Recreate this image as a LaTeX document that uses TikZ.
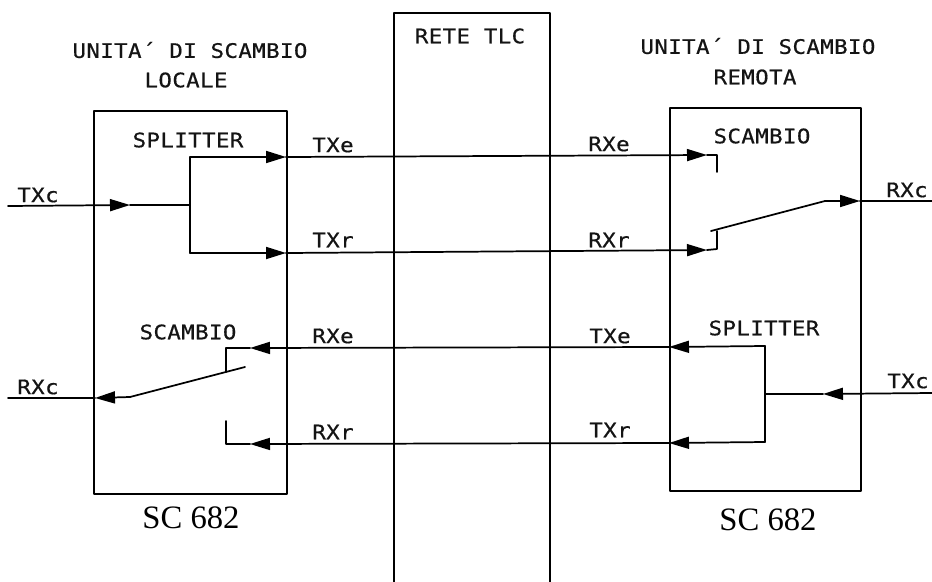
\documentclass[tikz,border=0pt]{standalone}
\usepackage{fontspec}
\usetikzlibrary{arrows.meta}
\setmainfont{Liberation Serif}
\newfontfamily\plotfont[FakeStretch=1.12,FakeBold=0.6,LetterSpace=2]{DejaVu Sans Mono}
\tikzset{
  x=0.75pt,y=-0.75pt,
  plottext/.style={inner sep=0pt,font=\plotfont\fontsize{15}{17}\selectfont,text=black!92},
  modeltext/.style={inner sep=0pt,font=\fontsize{24.5}{28}\selectfont},
  unitline/.style={draw,line width=1.15pt,line join=round},
  wire/.style={line width=1.3pt,line join=round,line cap=round},
  tipwire/.style={wire,-{Triangle[length=15pt,width=9pt]}}
}
\begin{document}
\begin{tikzpicture}
\useasboundingbox (0,0) rectangle (932,582);
% boxes
\node[unitline,inner sep=0pt,minimum width=144.75pt,minimum height=287.25pt,anchor=north west] (loc) at (93,110) {};
\node[unitline,inner sep=0pt,minimum width=143.25pt,minimum height=287.25pt,anchor=north west] (rem) at (669,107) {};
\draw[unitline] (394,582) coordinate (reteA) -- (394,13) coordinate (reteB) -- (550,13) coordinate (reteC) -- (550,582) coordinate (reteD);
% titles
\node[plottext] (t1) at (190,50) {UNITA´ DI SCAMBIO};
\node[plottext] (t2) at (186,80) {LOCALE};
\node[plottext] (t3) at (470,36) {RETE TLC};
\node[plottext] (t4) at (758,46) {UNITA´ DI SCAMBIO};
\node[plottext] (t5) at (755,77) {REMOTA};
\node[plottext] (s1) at (188,140) {SPLITTER};
\node[plottext] (s2) at (188,332) {SCAMBIO};
\node[plottext] (s3) at (762,136) {SCAMBIO};
\node[plottext] (s4) at (764,328) {SPLITTER};
\node[plottext] (l1) at (38,195) {TXc};
\node[plottext] (l2) at (333,145) {TXe};
\node[plottext] (l3) at (333,240) {TXr};
\node[plottext] (l4) at (609,144) {RXe};
\node[plottext] (l5) at (609,240) {RXr};
\node[plottext] (l6) at (907,190) {RXc};
\node[plottext] (l7) at (38,387) {RXc};
\node[plottext] (l8) at (333,336) {RXe};
\node[plottext] (l9) at (333,432) {RXr};
\node[plottext] (l10) at (610,336) {TXe};
\node[plottext] (l11) at (610,430) {TXr};
\node[plottext] (l12) at (908,381) {TXc};
\node[modeltext] (m1) at (191,518) {SC 682};
\node[modeltext] (m2) at (768,520) {SC 682};
% points
\coordinate (a0) at (8,206); \coordinate (a1) at (130,205); \coordinate (a2) at (190,205);
\coordinate (b1) at (190,157); \coordinate (b2) at (286,157); \coordinate (b3) at (707,155); \coordinate (b4) at (717,155); \coordinate (b5) at (717,172);
\coordinate (c1) at (190,253); \coordinate (c2) at (286,253); \coordinate (c3) at (707,250); \coordinate (c4) at (717,249); \coordinate (c5) at (717,231);
\coordinate (d1) at (711,231); \coordinate (d2) at (825,201); \coordinate (d3) at (860,201); \coordinate (d4) at (932,201);
\coordinate (e0) at (932,393); \coordinate (e1) at (823,394); \coordinate (e2) at (765,394);
\coordinate (f1) at (765,346); \coordinate (f2) at (669,347); \coordinate (f3) at (250,348); \coordinate (f4) at (226,348); \coordinate (f5) at (226,372);
\coordinate (g1) at (765,442); \coordinate (g2) at (669,443); \coordinate (g3) at (250,444); \coordinate (g4) at (226,444); \coordinate (g5) at (226,421);
\coordinate (h1) at (245,367); \coordinate (h2) at (130,397); \coordinate (h3) at (95,398); \coordinate (h4) at (8,398);
% local splitter
\draw[tipwire] (a0) -- (a1);
\draw[wire] (a1) -- (a2);
\draw[wire] (b1) -- (c1);
\draw[tipwire] (b1) -- (b2);
\draw[tipwire] (c1) -- (c2);
% upper crossing lines
\draw[tipwire] (b2) -- (b3);
\draw[wire] (b3) -- (b4) -- (b5);
\draw[tipwire] (c2) -- (c3);
\draw[wire] (c3) -- (c4) -- (c5);
% remote switch
\draw[wire] (d1) -- (d2);
\draw[tipwire] (d2) -- (d3);
\draw[wire] (d3) -- (d4);
% remote splitter
\draw[tipwire] (e0) -- (e1);
\draw[wire] (e1) -- (e2);
\draw[wire] (f1) -- (g1);
\draw[tipwire] (f1) -- (f2);
\draw[tipwire] (g1) -- (g2);
% lower crossing lines
\draw[tipwire] (f2) -- (f3);
\draw[wire] (f3) -- (f4) -- (f5);
\draw[tipwire] (g2) -- (g3);
\draw[wire] (g3) -- (g4) -- (g5);
% local switch
\draw[wire] (h1) -- (h2);
\draw[tipwire] (h2) -- (h3);
\draw[wire] (h3) -- (h4);
\end{tikzpicture}
\end{document}
